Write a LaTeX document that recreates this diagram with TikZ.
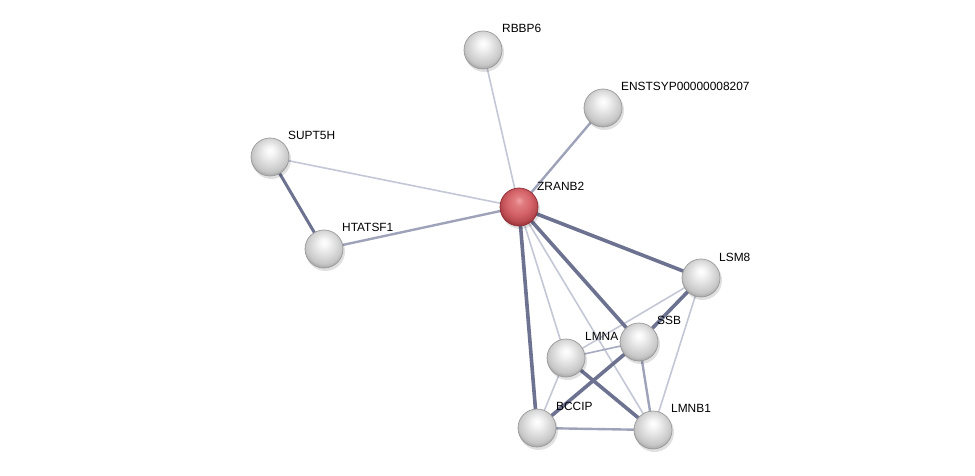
\documentclass[tikz,border=0pt]{standalone}
\usepackage{fontspec}
\setmainfont{Liberation Sans}
\begin{document}
\definecolor{ethick}{HTML}{6C7290}
\definecolor{emed}{HTML}{9FA3BA}
\definecolor{ethin}{HTML}{C4C7D6}
\definecolor{redA}{HTML}{F2A0A4}
\definecolor{redB}{HTML}{E07C80}
\definecolor{redC}{HTML}{D46368}
\definecolor{redD}{HTML}{B84A50}
\definecolor{redE}{HTML}{8E2C32}
\pgfdeclareradialshading{greysphere}{\pgfpoint{0bp}{9bp}}{%
  color(0bp)=(white); color(6bp)=(white!96!black); color(16bp)=(white!86!black);
  color(24bp)=(white!78!black); color(30bp)=(white!62!black); color(50bp)=(white!55!black)}
\pgfdeclareradialshading{redsphere}{\pgfpoint{0bp}{9bp}}{%
  color(0bp)=(redA); color(6bp)=(redB); color(16bp)=(redC);
  color(24bp)=(redD); color(30bp)=(redE); color(50bp)=(redE)}
\begin{tikzpicture}[x=1pt,y=-1pt,
  prot/.style={circle,minimum size=38pt,inner sep=0pt,draw=gray!80,line width=0.7pt,shading=greysphere},
  seed/.style={circle,minimum size=38pt,inner sep=0pt,draw=redE,line width=0.7pt,shading=redsphere},
  lab/.style={anchor=west,inner sep=0pt,font=\fontsize{11.9}{14}\selectfont},
  thick edge/.style={draw=ethick,line width=3.6pt},
  med edge/.style={draw=emed,line width=2.4pt},
  thin edge/.style={draw=ethin,line width=1.6pt}]
\useasboundingbox[fill=white] (0,0) rectangle (975,476);
\coordinate (cRBBP6) at (483,50);
\coordinate (cENST) at (603,108);
\coordinate (cSUPT5H) at (270,157);
\coordinate (cHTATSF1) at (324,249);
\coordinate (cZRANB2) at (519,207);
\coordinate (cLSM8) at (701,278);
\coordinate (cSSB) at (639,342);
\coordinate (cLMNA) at (566,358);
\coordinate (cBCCIP) at (537,428);
\coordinate (cLMNB1) at (653,430);
% edges
\draw[thin edge] (cZRANB2) -- (cRBBP6);
\draw[med edge] (cZRANB2) -- (cENST);
\draw[thin edge] (cZRANB2) -- (cSUPT5H);
\draw[med edge] (cZRANB2) -- (cHTATSF1);
\draw[thick edge,line width=3pt] (cSUPT5H) -- (cHTATSF1);
\draw[thin edge] (cZRANB2) -- (cLMNA);
\draw[thin edge] (cZRANB2) -- (cLMNB1);
\draw[thin edge] (cLSM8) -- (cLMNA);
\draw[thin edge] (cLSM8) -- (cLMNB1);
\draw[thin edge,draw=emed!80!ethin] (cSSB) -- (cLMNA);
\draw[thin edge] (cLMNA) -- (cBCCIP);
\draw[med edge] (cSSB) -- (cLMNB1);
\draw[med edge] (cBCCIP) -- (cLMNB1);
\draw[thick edge] (cZRANB2) -- (cLSM8);
\draw[thick edge] (cZRANB2) -- (cSSB);
\draw[thick edge] (cZRANB2) -- (cBCCIP);
\draw[thick edge] (cLSM8) -- (cSSB);
\draw[thick edge] (cSSB) -- (cBCCIP);
\draw[thick edge] (cLMNA) -- (cLMNB1);
% shadows
\foreach \c in {cRBBP6,cENST,cSUPT5H,cHTATSF1,cZRANB2,cLSM8,cSSB,cLMNA,cBCCIP,cLMNB1}
  \fill[black,opacity=0.12] ([shift={(1.5,2.5)}]\c) circle (19.5);
% nodes
\node[prot] (RBBP6) at (cRBBP6) {};
\node[prot] (ENST) at (cENST) {};
\node[prot] (SUPT5H) at (cSUPT5H) {};
\node[prot] (HTATSF1) at (cHTATSF1) {};
\node[seed] (ZRANB2) at (cZRANB2) {};
\node[prot] (LSM8) at (cLSM8) {};
\node[prot] (SSB) at (cSSB) {};
\node[prot] (LMNA) at (cLMNA) {};
\node[prot] (BCCIP) at (cBCCIP) {};
\node[prot] (LMNB1) at (cLMNB1) {};
% labels
\node[lab] (lRBBP6) at ([shift={(19,-22)}]cRBBP6) {RBBP6};
\node[lab] (lENST) at ([shift={(18,-22)}]cENST) {ENSTSYP00000008207};
\node[lab] (lSUPT5H) at ([shift={(18,-22)}]cSUPT5H) {SUPT5H};
\node[lab] (lHTATSF1) at ([shift={(18,-22)}]cHTATSF1) {HTATSF1};
\node[lab] (lZRANB2) at ([shift={(18,-21)}]cZRANB2) {ZRANB2};
\node[lab] (lLSM8) at ([shift={(18,-21)}]cLSM8) {LSM8};
\node[lab] (lSSB) at ([shift={(18,-22)}]cSSB) {SSB};
\node[lab] (lLMNA) at ([shift={(19,-22)}]cLMNA) {LMNA};
\node[lab] (lBCCIP) at ([shift={(19,-22)}]cBCCIP) {BCCIP};
\node[lab] (lLMNB1) at ([shift={(18,-22)}]cLMNB1) {LMNB1};
\end{tikzpicture}
\end{document}
